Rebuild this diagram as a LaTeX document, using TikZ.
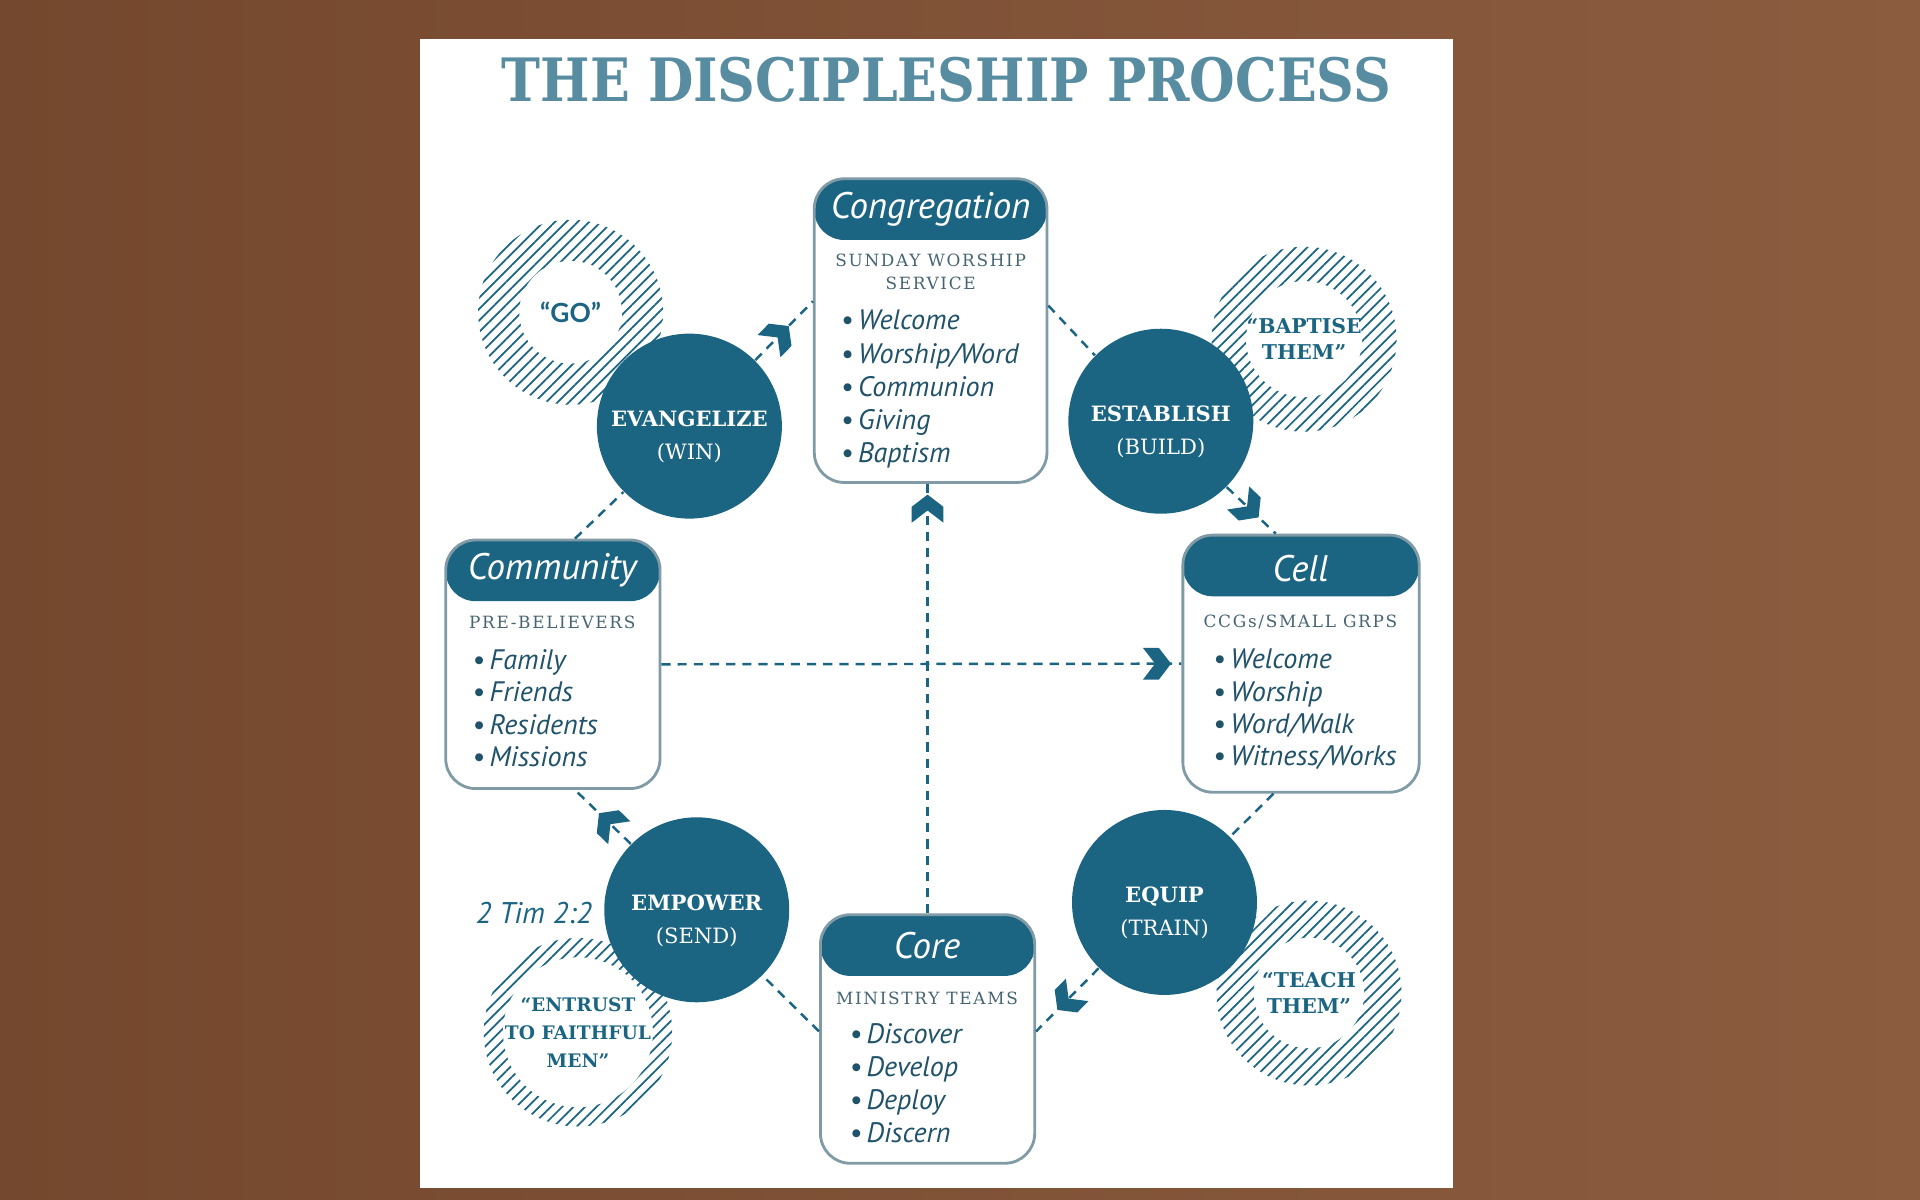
\documentclass[tikz,border=0pt]{standalone}
\usepackage{fontspec}
\setmainfont{DejaVu Serif}
\newfontfamily\handfont{PT Sans}
\newfontfamily\capsfont[LetterSpace=10]{DejaVu Serif}
\newfontfamily\quotefont{Lato}
\usetikzlibrary{positioning,fit,calc,patterns.meta,decorations.markings}

\definecolor{tealc}{RGB}{27,101,130}
\definecolor{tealdk}{RGB}{32,82,106}
\definecolor{boxline}{RGB}{128,154,166}
\definecolor{subgray}{RGB}{70,100,115}
\definecolor{titlec}{RGB}{88,140,160}
\definecolor{woodL}{RGB}{116,72,46}
\definecolor{woodR}{RGB}{140,92,63}

\tikzset{
  panel/.style={draw=boxline, line width=0.8pt, rounded corners=8.5pt, inner sep=0pt,
    path picture={\fill[tealc] (path picture bounding box.north west)
      rectangle ([yshift=-17.4pt]path picture bounding box.north east);}},
  head/.style={font=\handfont\itshape\fontsize{10.5}{12}\selectfont, text=white},
  sub/.style={font=\capsfont\fontsize{4.8}{6.3}\selectfont, text=subgray, align=center},
  item/.style={font=\handfont\itshape\fontsize{8}{9}\selectfont, text=tealdk, anchor=base west, inner sep=0pt},
  stage/.style={circle, fill=tealc, minimum size=52.6pt, inner sep=0pt, text=white,
    align=center, text height=20pt, font=\bfseries\fontsize{6}{9.4}\selectfont},
  ring/.style={circle, minimum size=52.6pt, inner sep=0pt,
    pattern={Lines[angle=45,distance=2.3pt,line width=0.5pt]}, pattern color=tealc,
    path picture={\fill[white] (path picture bounding box.center) circle (#1);},
    text=tealc, align=center, font=\bfseries\fontsize{5.8}{7.4}\selectfont},
  link/.style={draw=tealc, line width=0.7pt, dash pattern=on 2.6pt off 2pt},
  chevron/.style={postaction={decorate, decoration={markings, mark=at position #1 with
    {\fill[tealc] (0,0) -- (-10,13) -- (-23,13) -- (-13,0) -- (-23,-13) -- (-10,-13) -- cycle;}}}}
}

\begin{document}
\begin{tikzpicture}[x=0.012245cm, y=-0.012245cm]

  \useasboundingbox (0,0) rectangle (1568,980);
  \fill[left color=woodL, right color=woodR] (0,0) rectangle (1568,980);
  \fill[white] (343,32) rectangle (1187,970);

  \node[font=\bfseries\fontsize{17}{20}\selectfont, text=titlec] (title) at (773,65)
    {\scalebox{0.875}[1]{THE DISCIPLESHIP PROCESS}};

  % hatched rings
  \node[ring=14.6pt] (go) at (466,255) {\quotefont\fontsize{7.5}{9}\selectfont “GO”};
  \node[ring=16.5pt] (baptise) at (1065,277) {“BAPTISE\\THEM”};
  \node[ring=15.7pt] (teach) at (1069,811) {“TEACH\\THEM”};
  \node[ring=21.3pt, minimum size=53.6pt, font=\bfseries\fontsize{5.3}{8}\selectfont] (entrust) at (472,843)
    {“ENTRUST\\TO FAITHFUL\\MEN”};

  % boxes
  \node[panel, fit={(665,146) (855,394)}] (cong) {};
  \node[panel, fit={(364,441) (539,644)}] (comm) {};
  \node[panel, fit={(966,437) (1159,647)}] (cell) {};
  \node[panel, fit={(670,747) (845,950)}] (core) {};

  \node[head] (cong-h) at (760,171) {Congregation};
  \node[head] (comm-h) at (451,466) {Community};
  \node[head] (cell-h) at (1062,464) {Cell};
  \node[head] (core-h) at (757,772) {Core};

  \node[sub] (cong-s) at (760,222) {SUNDAY WORSHIP\\SERVICE};
  \node[sub] (comm-s) at (451,508) {PRE-BELIEVERS};
  \node[sub] (cell-s) at (1062,508) {CCGs/SMALL GRPS};
  \node[sub] (core-s) at (757,815) {MINISTRY TEAMS};

  \foreach \t [count=\i] in {Welcome, Worship/Word, Communion, Giving, Baptism}
    \node[item] (cong-\i) at (686,{242.5+27*\i}) {\textbullet\,\t};
  \foreach \t [count=\i] in {Family, Friends, Residents, Missions}
    \node[item] (comm-\i) at (385,{520+26.5*\i}) {\textbullet\,\t};
  \foreach \t [count=\i] in {Welcome, Worship, Word/Walk, Witness/Works}
    \node[item] (cell-\i) at (990,{519.5+26.5*\i}) {\textbullet\,\t};
  \foreach \t [count=\i] in {Discover, Develop, Deploy, Discern}
    \node[item] (core-\i) at (693,{825+27*\i}) {\textbullet\,\t};

  % stages
  \node[stage] (evg) at (563,348) {EVANGELIZE\\{\mdseries(WIN)}};
  \node[stage] (est) at (948,344) {ESTABLISH\\{\mdseries(BUILD)}};
  \node[stage] (equip) at (951,737) {EQUIP\\{\mdseries(TRAIN)}};
  \node[stage] (emp) at (569,743) {EMPOWER\\{\mdseries(SEND)}};

  \node[font=\handfont\itshape\fontsize{8.5}{10}\selectfont, text=tealc] (tim) at (436,746) {2 Tim 2:2};

  % connectors
  \draw[link] (comm.80) -- (evg.225);
  \draw[link, chevron=0.58] (evg.45) -- (cong.166);
  \draw[link] (cong.12) -- (est.135);
  \draw[link, chevron=0.65] (est.315) -- (cell.101);
  \draw[link] (cell.258) -- (equip.45);
  \draw[link, chevron=0.66] (equip.225) -- (core.4);
  \draw[link] (core.176) -- (emp.315);
  \draw[link, chevron=0.57] (emp.135) -- (comm.280);
  \draw[link, chevron=0.975] (core.north) -- (core.north |- cong.south);
  \draw[link, chevron=0.98] (comm.east) -- (cell.west);

\end{tikzpicture}
\end{document}
